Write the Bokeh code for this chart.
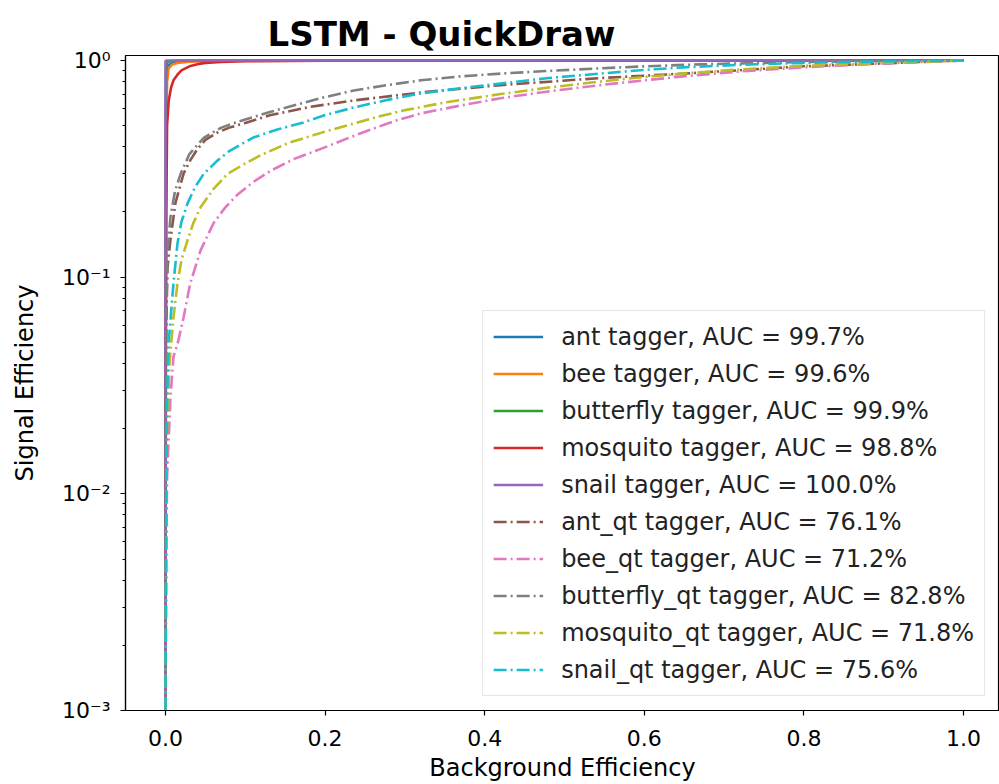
from bokeh.plotting import figure
from bokeh.models import Range1d, FixedTicker, Legend, LegendItem, PrintfTickFormatter
from bokeh.embed import file_html
from bokeh.resources import INLINE

TITLE = "LSTM - QuickDraw"
X_LABEL = "Background Efficiency"
Y_LABEL = "Signal Efficiency"

names = ["ant", "bee", "butterfly", "mosquito", "snail",
         "ant_qt", "bee_qt", "butterfly_qt", "mosquito_qt", "snail_qt"]
aucs = ["99.7", "99.6", "99.9", "98.8", "100.0",
        "76.1", "71.2", "82.8", "71.8", "75.6"]
colors = ["#1f77b4", "#ff7f0e", "#2ca02c", "#d62728", "#9467bd",
          "#8c564b", "#e377c2", "#7f7f7f", "#bcbd22", "#17becf"]

# ROC curves: x = background efficiency, y = signal efficiency
ant_x = [0.0, 0.0005, 0.001, 0.002, 0.004, 0.01, 0.03, 0.1, 1.0]
ant_y = [0.001, 0.3, 0.7, 0.9, 0.95, 0.985, 0.995, 0.999, 1.0]

bee_x = [0.0, 0.0005, 0.001, 0.002, 0.004, 0.008, 0.015, 0.03, 0.06, 0.15, 1.0]
bee_y = [0.001, 0.2, 0.5, 0.8, 0.92, 0.955, 0.975, 0.988, 0.995, 0.999, 1.0]

butterfly_x = [0.0, 0.0005, 0.001, 0.003, 0.006, 0.02, 1.0]
butterfly_y = [0.001, 0.6, 0.95, 0.985, 0.995, 0.999, 1.0]

mosquito_x = [0.0, 0.0005, 0.001, 0.002, 0.004, 0.007, 0.01, 0.015, 0.02, 0.03,
              0.04, 0.05, 0.07, 0.1, 0.2, 1.0]
mosquito_y = [0.001, 0.05, 0.2, 0.5, 0.65, 0.75, 0.81, 0.86, 0.9, 0.94,
              0.96, 0.975, 0.985, 0.992, 0.997, 1.0]

snail_x = [0.0, 0.0, 0.001, 0.003, 1.0]
snail_y = [0.001, 0.995, 0.999, 1.0, 1.0]

ant_qt_x = [0.0, 0.0005, 0.001, 0.0025, 0.0063, 0.0125, 0.0226, 0.031, 0.04, 0.05,
            0.065, 0.08, 0.1, 0.132, 0.18, 0.236, 0.32, 0.42, 0.545, 0.649, 0.8, 0.9, 1.0]
ant_qt_y = [0.001, 0.02, 0.06, 0.11, 0.15, 0.22, 0.30, 0.346, 0.39, 0.43,
            0.465, 0.49, 0.515, 0.56, 0.61, 0.654, 0.712, 0.77, 0.83, 0.87, 0.94, 0.97, 1.0]

bee_qt_x = [0.0, 0.001, 0.002, 0.0063, 0.010, 0.015, 0.0226, 0.031, 0.044,
            0.06, 0.075, 0.09, 0.11, 0.132, 0.16, 0.194, 0.23, 0.257, 0.29, 0.32,
            0.37, 0.42, 0.48, 0.545, 0.6, 0.649, 0.72, 0.8, 0.9, 1.0]
bee_qt_y = [0.001, 0.005, 0.012, 0.028, 0.043, 0.049, 0.065, 0.0935, 0.133,
            0.177, 0.21, 0.24, 0.275, 0.31, 0.35, 0.39, 0.44, 0.48, 0.53, 0.57,
            0.62, 0.67, 0.72, 0.77, 0.81, 0.845, 0.89, 0.93, 0.97, 1.0]

butterfly_qt_x = [0.0, 0.0005, 0.001, 0.0025, 0.0063, 0.012, 0.019, 0.03, 0.048, 0.07,
                  0.09, 0.132, 0.194, 0.236, 0.278, 0.32, 0.37, 0.42, 0.48, 0.545,
                  0.6, 0.67, 0.75, 0.8, 0.9, 1.0]
butterfly_qt_y = [0.001, 0.03, 0.07, 0.13, 0.19, 0.25, 0.30, 0.37, 0.44, 0.49,
                  0.52, 0.58, 0.67, 0.727, 0.77, 0.81, 0.845, 0.87, 0.895, 0.92,
                  0.94, 0.96, 0.975, 0.985, 0.995, 1.0]

mosquito_qt_x = [0.0, 0.001, 0.002, 0.005, 0.01, 0.015, 0.02, 0.0276, 0.035, 0.044,
                 0.06, 0.078, 0.1, 0.119, 0.153, 0.2, 0.236, 0.27, 0.30, 0.35, 0.42,
                 0.48, 0.545, 0.6, 0.649, 0.72, 0.8, 0.9, 1.0]
mosquito_qt_y = [0.001, 0.008, 0.02, 0.04, 0.065, 0.0935, 0.12, 0.148, 0.178, 0.21,
                 0.255, 0.30, 0.335, 0.365, 0.415, 0.47, 0.512, 0.555, 0.59, 0.64, 0.7,
                 0.75, 0.8, 0.84, 0.87, 0.91, 0.945, 0.975, 1.0]

snail_qt_x = [0.0, 0.001, 0.002, 0.004, 0.010, 0.015, 0.02, 0.0276, 0.037, 0.048,
              0.065, 0.081, 0.11, 0.14, 0.173, 0.2, 0.236, 0.28, 0.32, 0.37, 0.42,
              0.48, 0.545, 0.6, 0.649, 0.72, 0.8, 0.9, 1.0]
snail_qt_y = [0.001, 0.01, 0.027, 0.05, 0.0935, 0.143, 0.18, 0.219, 0.26, 0.30,
              0.345, 0.384, 0.441, 0.48, 0.518, 0.56, 0.607, 0.66, 0.705, 0.745, 0.783,
              0.83, 0.87, 0.905, 0.93, 0.955, 0.975, 0.99, 1.0]

curves_x = [ant_x, bee_x, butterfly_x, mosquito_x, snail_x,
            ant_qt_x, bee_qt_x, butterfly_qt_x, mosquito_qt_x, snail_qt_x]
curves_y = [ant_y, bee_y, butterfly_y, mosquito_y, snail_y,
            ant_qt_y, bee_qt_y, butterfly_qt_y, mosquito_qt_y, snail_qt_y]

x_ticks = [0.0, 0.2, 0.4, 0.6, 0.8, 1.0]
y_ticks = [0.001, 0.01, 0.1, 1.0]
y_tick_labels = {0.001: "10\u207b\u00b3", 0.01: "10\u207b\u00b2",
                 0.1: "10\u207b\u00b9", 1.0: "10\u2070"}
y_minor = [m * d for d in (0.001, 0.01, 0.1) for m in range(2, 10)]

FONT = "DejaVu Sans"

p = figure(width=999, height=784, output_backend="svg", toolbar_location=None,
           y_axis_type="log",
           x_range=Range1d(-0.0501, 1.0451), y_range=Range1d(1e-3, 1.0546),
           min_border_left=125, min_border_right=0, min_border_top=55,
           min_border_bottom=74)

p.title.text = TITLE
p.title.text_font = FONT
p.title.text_font_size = "34px"
p.title.text_font_style = "bold"
p.title.text_color = "black"
p.title.align = "left"
p.title.offset = 142
p.title.standoff = 4

p.grid.visible = False
p.outline_line_color = "black"
p.outline_line_width = 1.2
p.background_fill_color = "white"
p.border_fill_color = "white"

for ax in (p.xaxis[0], p.yaxis[0]):
    ax.axis_line_width = 1.2
    ax.major_tick_line_width = 1.2
    ax.minor_tick_line_width = 1.0
    ax.major_tick_in = 0
    ax.major_tick_out = 5
    ax.minor_tick_in = 0
    ax.minor_tick_out = 3
    ax.major_label_text_font = FONT
    ax.major_label_text_font_size = "22px"
    ax.major_label_text_color = "black"
    ax.axis_label_text_font = FONT
    ax.axis_label_text_font_size = "24px"
    ax.axis_label_text_font_style = "normal"
    ax.axis_label_text_color = "black"

p.xaxis.ticker = FixedTicker(ticks=x_ticks)
p.xaxis.formatter = PrintfTickFormatter(format="%.1f")
p.xaxis.axis_label = X_LABEL
p.xaxis.major_label_standoff = 14
p.xaxis.axis_label_standoff = 5

p.yaxis.ticker = FixedTicker(ticks=y_ticks, minor_ticks=y_minor)
p.yaxis.major_label_overrides = y_tick_labels
p.yaxis.axis_label = Y_LABEL
p.yaxis.major_label_standoff = 10
p.yaxis.axis_label_standoff = 20

items = []
for i in range(len(names)):
    dashed = i >= 5
    r = p.line(curves_x[i], curves_y[i], line_color=colors[i], line_width=2.6,
               line_dash="13 4 2 4" if dashed else "solid")
    items.append(LegendItem(label=f"{names[i]} tagger, AUC = {aucs[i]}%", renderers=[r]))

legend = Legend(items=items, location="bottom_right", margin=14,
                padding=10, spacing=6, glyph_width=50, glyph_height=31,
                label_standoff=18, label_text_font=FONT,
                label_text_font_size="24px", label_text_color="#222222",
                border_line_color="#cccccc", border_line_width=1.2,
                background_fill_alpha=0.8)
p.add_layout(legend, "center")

open("out.html", "w").write(file_html(p, INLINE))
